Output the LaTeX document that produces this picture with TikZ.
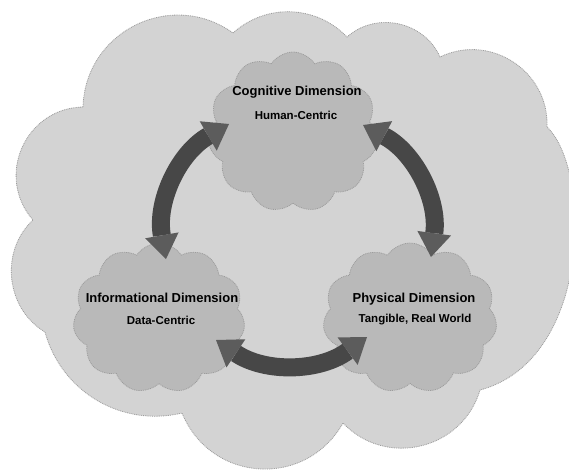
\documentclass[tikz,border=0pt]{standalone}
\usepackage{fontspec}
\setmainfont{Liberation Sans}
\usetikzlibrary{shapes.symbols,arrows.meta}
\definecolor{skyfill}{HTML}{D3D3D3}
\definecolor{puffill}{HTML}{B9B9B9}
\definecolor{rim}{HTML}{9C9C9C}
\definecolor{shaft}{HTML}{474747}
\definecolor{tipgray}{HTML}{5C5C5C}
\begin{document}
\begin{tikzpicture}[x=1pt,y=-1pt,
  rimline/.style={draw=rim, line width=0.8pt, dash pattern=on 0.9pt off 0.9pt},
  puff/.style={cloud, cloud puffs=11, cloud puff arc=115, aspect=1.1,
    fill=puffill, rimline, inner sep=0pt},
  title/.style={font=\bfseries\fontsize{13}{15}\selectfont},
  subtitle/.style={font=\bfseries\fontsize{11.5}{13}\selectfont},
  headtip/.style={Triangle[length=24pt,width=34pt,line width=0pt,color=tipgray,fill=tipgray]},
  loopArrow/.style={line width=18pt, draw=shaft, {Triangle[length=24pt,width=34pt,line width=0pt,color=tipgray,fill=tipgray]}-{Triangle[length=24pt,width=34pt,line width=0pt,color=tipgray,fill=tipgray]}},
]
\useasboundingbox (0,0) rectangle (569,469);
\fill[white] (0,0) rectangle (569,469);

% outer cloud, built from round bumps between the dips of its outline
\path[fill=skyfill, rimline]
  (83,107) to[bend left=62, looseness=1.16] (233,33)
  to[bend left=44] (347,37)
  to[bend left=54, looseness=1.05] (440,57)
  to[bend left=59, looseness=1.12] (547,127)
  .. controls (592,170) and (592,360) .. (480,390)
  to[bend left=60, looseness=1.13] (343,423)
  to[bend left=64, looseness=1.2] (182,413)
  to[bend left=44] (45,332)
  to[bend left=53, looseness=1.04] (33,220)
  to[bend left=65, looseness=1.2] (83,107) -- cycle;

% the three dimensions
\node[puff, minimum width=170pt, minimum height=160pt] (cog) at (293,132) {};
\node[puff, minimum width=172pt, minimum height=150pt] (inf) at (159,318) {};
\node[puff, minimum width=174pt, minimum height=150pt] (phy) at (410,318) {};

% ends of the circular arrows
\coordinate (L1) at (166,259);
\coordinate (L2) at (229,124);
\coordinate (R1) at (363,125);
\coordinate (R2) at (431,257);
\coordinate (D1) at (367,337);
\coordinate (D2) at (216,340);

\draw[loopArrow] (L1) to[bend left=35] (L2);
\draw[loopArrow] (R1) to[bend left=35] (R2);
\draw[loopArrow] (D1) to[bend left=35] (D2);

% labels
\node[title]    (cogT) at (297,92)  {Cognitive Dimension};
\node[subtitle] (cogS) at (296,115) {Human-Centric};
\node[title]    (infT) at (162,298) {Informational Dimension};
\node[subtitle] (infS) at (161,320) {Data-Centric};
\node[title]    (phyT) at (414,299) {Physical Dimension};
\node[subtitle] (phyS) at (415,320) {Tangible, Real World};
\end{tikzpicture}
\end{document}
